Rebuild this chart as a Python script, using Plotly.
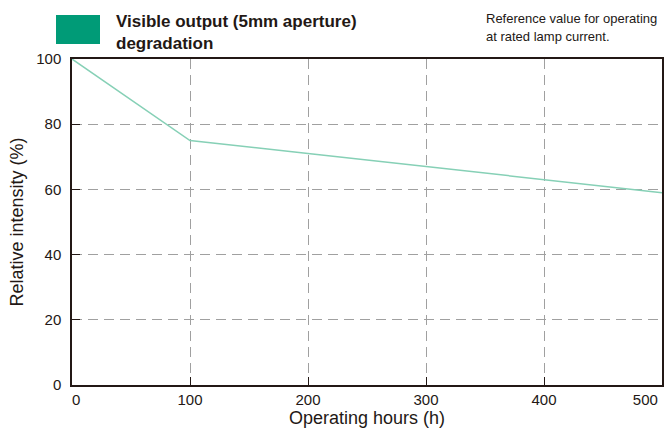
import plotly.graph_objects as go

hours = [0, 100, 200, 300, 400, 500]
intensity = [100, 75, 71, 67, 63, 59]
x_ticks = [0, 100, 200, 300, 400, 500]
x_labels = ["\u00a0\u00a00", "100", "200", "300", "400",
            "500\u00a0\u00a0\u00a0\u00a0\u00a0\u00a0\u00a0\u00a0"]
y_ticks = [0, 20, 40, 60, 80, 100]

FONT = "Liberation Sans, Arial, sans-serif"
INK = "#231815"

fig = go.Figure()
fig.add_trace(go.Scatter(x=hours, y=intensity, mode="lines",
                         line=dict(color="#86d0b6", width=1.5), hoverinfo="skip"))

fig.update_layout(
    width=666, height=432,
    margin=dict(l=72, r=4, t=59, b=47, autoexpand=False),
    paper_bgcolor="white", plot_bgcolor="white",
    showlegend=False,
    font=dict(family=FONT, color=INK),
)
axis_common = dict(showgrid=True, gridcolor="#a0a0a0", griddash="10px,6px", gridwidth=1.3,
                   showline=True, linecolor=INK, linewidth=1.5, mirror=True,
                   ticks="inside", ticklen=8, tickcolor=INK, tickwidth=1.3,
                   tickfont=dict(size=15, family=FONT, color=INK), zeroline=False,
                   automargin=False)
fig.update_xaxes(range=[0, 500], tickvals=x_ticks, ticktext=x_labels, **axis_common,
                 ticklabeloverflow="allow",
                 title=dict(text="Operating hours (h)", font=dict(size=18, family=FONT, color=INK), standoff=4))
fig.update_yaxes(range=[0, 100], tickvals=y_ticks, **axis_common, ticklabelstandoff=6,
                 title=dict(text="Relative intensity (%)", font=dict(size=18, family=FONT, color=INK), standoff=8))

fig.add_shape(type="rect", xref="paper", yref="paper",
              x0=-16/590, x1=28/590, y0=1 + 15/326, y1=1 + 44/326,
              fillcolor="#009b77", line=dict(width=0))
fig.add_annotation(xref="paper", yref="paper", x=42/590, y=1 + (59 - 32)/326,
                   text="<b>Visible output (5mm aperture)<br>degradation</b>",
                   showarrow=False, xanchor="left", yanchor="middle", align="left",
                   font=dict(size=17, family=FONT, color=INK))
fig.add_annotation(xref="paper", yref="paper", x=(484 - 72)/590, y=1 + (59 - 18)/326,
                   text="Reference value for operating",
                   showarrow=False, xanchor="left", yanchor="middle", align="left",
                   font=dict(size=13, family=FONT, color=INK))
fig.add_annotation(xref="paper", yref="paper", x=(484 - 72)/590, y=1 + (59 - 37)/326,
                   text="at rated lamp current.",
                   showarrow=False, xanchor="left", yanchor="middle", align="left",
                   font=dict(size=13, family=FONT, color=INK))

fig.write_html("out.html", config={"displayModeBar": False},
               post_script="document.body.style.margin='0';")
